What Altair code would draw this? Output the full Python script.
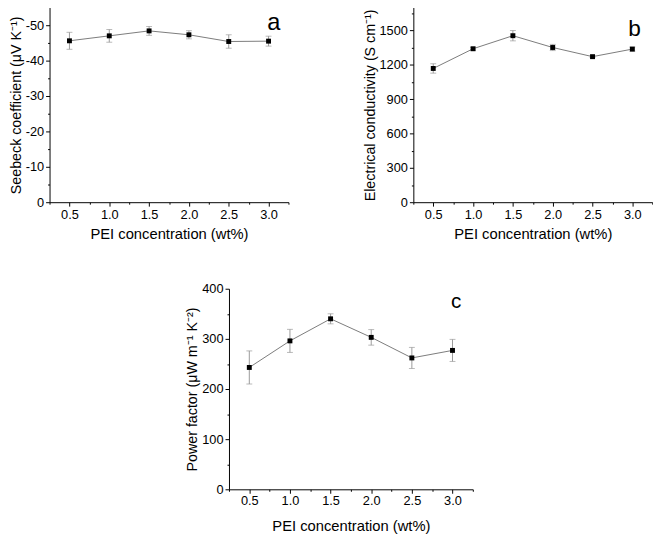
import altair as alt
import pandas as pd

# ---- data ----
pei = [0.5, 1.0, 1.5, 2.0, 2.5, 3.0]
seebeck = [-45.6, -47.0, -48.4, -47.3, -45.4, -45.5]
seebeck_err = [2.4, 1.8, 1.25, 1.15, 1.9, 1.4]
sigma = [1168, 1340, 1454, 1351, 1271, 1337]
sigma_err = [41, 12, 45, 27, 8, 18]
pf = [243, 296, 340, 303, 262, 277]
pf_err = [33, 23, 10, 15.5, 21, 22]

x_ticks = [0.25, 0.5, 0.75, 1.0, 1.25, 1.5, 1.75, 2.0, 2.25, 2.5, 2.75, 3.0, 3.25]
a_ticks = [0, -5, -10, -15, -20, -25, -30, -35, -40, -45, -50]
b_ticks = [0, 150, 300, 450, 600, 750, 900, 1050, 1200, 1350, 1500, 1650]
c_ticks = [0, 50, 100, 150, 200, 250, 300, 350, 400]

FONT = "Liberation Sans"
LINE_GRAY = "#7a7a7a"
ERR_GRAY = "#9a9a9a"


def panel(vals, errs, ydomain, yticks, ymajor, ytitle, letter, lx, ly, lsize, w, h,
          xlabel_pad=3, xtitle_pad=5):
    df = pd.DataFrame({
        "x": pei,
        "y": vals,
        "lo": [v - e for v, e in zip(vals, errs)],
        "hi": [v + e for v, e in zip(vals, errs)],
    })
    xscale = alt.Scale(domain=[0.25, 3.25], nice=False, zero=False)
    xaxis = alt.Axis(
        values=x_ticks,
        title="PEI concentration (wt%)",
        titleFontSize=15,
        labelExpr="datum.value % 0.5 == 0 ? format(datum.value, '.1f') : ''",
        tickSize={"condition": {"test": "datum.value % 0.5 == 0", "value": 4}, "value": 2},
        labelPadding=xlabel_pad,
        titlePadding=xtitle_pad,
        grid=False,
    )
    yscale = alt.Scale(domain=ydomain, nice=False, zero=False)
    yaxis = alt.Axis(
        values=yticks,
        title=ytitle,
        titleFontSize=14.5,
        labelExpr=f"datum.value % {ymajor} == 0 ? '' + datum.value : ''",
        tickSize={"condition": {"test": f"datum.value % {ymajor} == 0", "value": 4}, "value": 2},
        labelPadding=2,
        titlePadding=2,
        grid=False,
    )
    x = alt.X("x:Q", scale=xscale, axis=xaxis)
    base = alt.Chart(df)
    line = base.mark_line(color=LINE_GRAY, strokeWidth=1).encode(
        x=x, y=alt.Y("y:Q", scale=yscale, axis=yaxis)
    )
    err = base.mark_errorbar(
        color=ERR_GRAY, ticks={"size": 6, "color": ERR_GRAY}, thickness=1
    ).encode(
        x=x, y=alt.Y("lo:Q", scale=yscale, axis=yaxis), y2="hi:Q"
    )
    pts = base.mark_square(size=25, color="black", opacity=1, filled=True).encode(
        x=x, y=alt.Y("y:Q", scale=yscale, axis=yaxis)
    )
    lab = alt.Chart(pd.DataFrame({"t": [letter]})).mark_text(
        font=FONT, fontSize=lsize, align="center", baseline="alphabetic", color="black"
    ).encode(text="t:N", x=alt.value(lx), y=alt.value(ly))
    return alt.layer(line, err, pts, lab).properties(width=w, height=h)


pa = panel(seebeck, seebeck_err, [0, -55], a_ticks, 10,
           "Seebeck coefficient (μV K⁻¹)", "a", 228, 23, 24, 243, 198)
pb = panel(sigma, sigma_err, [0, 1700], b_ticks, 300,
           "Electrical conductivity (S cm⁻¹)", "b", 225, 29, 23, 243, 198)
pc = panel(pf, pf_err, [0, 400], c_ticks, 100,
           "Power factor (μW m⁻¹ K⁻²)", "c", 231, 20, 21, 248, 204,
           xlabel_pad=1, xtitle_pad=12)

row1 = alt.hconcat(pa, pb, spacing=74)
chart = alt.vconcat(row1, pc, spacing=42, center=True).properties(
    padding={"left": 0, "top": -5, "right": 0, "bottom": 0}
).configure_view(stroke=None).configure_axis(
    labelFont=FONT, titleFont=FONT, labelFontSize=13,
    titleFontWeight="normal", labelColor="black", titleColor="black",
    domainColor="black", tickColor="black", domainWidth=1, tickWidth=1,
)

chart.save("out.html", embed_options={"renderer": "svg", "actions": False})
